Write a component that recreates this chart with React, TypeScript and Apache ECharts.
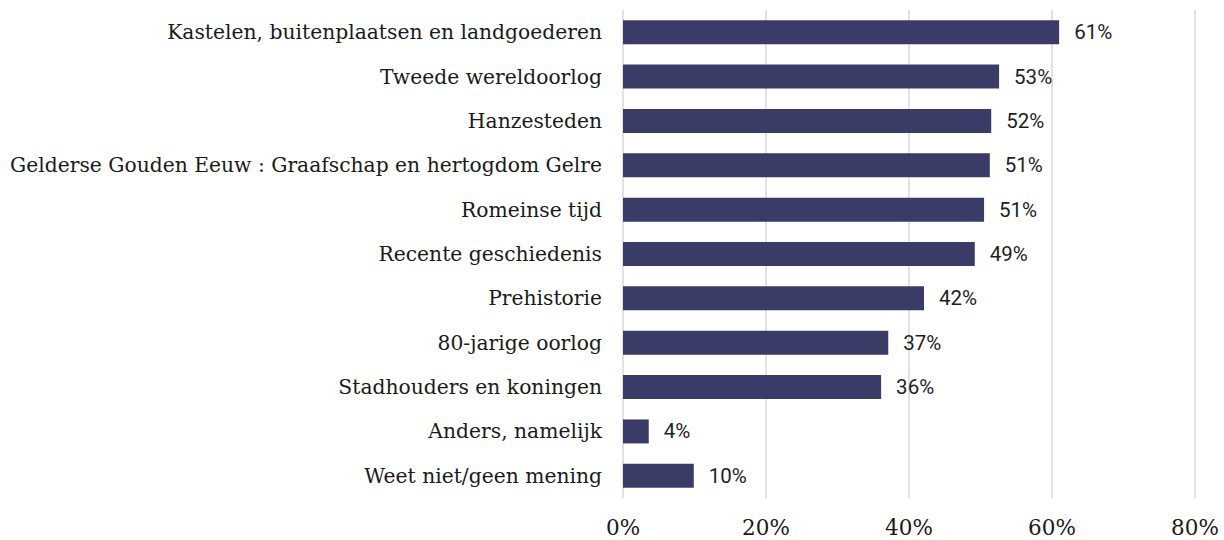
import React, { useEffect, useRef } from "react";
import * as echarts from "echarts";

const categories = [
  "Kastelen, buitenplaatsen en landgoederen",
  "Tweede wereldoorlog",
  "Hanzesteden",
  "Gelderse Gouden Eeuw : Graafschap en hertogdom Gelre",
  "Romeinse tijd",
  "Recente geschiedenis",
  "Prehistorie",
  "80-jarige oorlog",
  "Stadhouders en koningen",
  "Anders, namelijk",
  "Weet niet/geen mening",
];
const values = [61.0, 52.6, 51.5, 51.3, 50.5, 49.2, 42.1, 37.1, 36.1, 3.6, 9.9];
const xTicks = [0, 20, 40, 60, 80];

export default function App() {
  const ref = useRef<HTMLDivElement>(null);
  useEffect(() => {
    const chart = echarts.init(ref.current!, null, { renderer: "svg" });
    chart.setOption({
      animation: false,
      backgroundColor: "#ffffff",
      grid: { left: 623, right: 29, top: 10, bottom: 42, containLabel: false },
      xAxis: {
        type: "value",
        min: xTicks[0],
        max: xTicks[xTicks.length - 1],
        interval: 20,
        axisLine: { show: false },
        axisTick: { show: false },
        splitLine: { show: true, lineStyle: { color: "#d9d9d9", width: 1.5 } },
        axisLabel: {
          formatter: (v: number) => v + "%",
          fontFamily: "DejaVu Serif",
          fontSize: 21.5,
          color: "#1a1a1a",
          margin: 18,
        },
      },
      yAxis: {
        type: "category",
        data: categories,
        inverse: true,
        axisLine: { show: false },
        axisTick: { show: false },
        axisLabel: {
          fontFamily: "DejaVu Serif",
          fontSize: 20.3,
          color: "#1a1a1a",
          margin: 21,
        },
      },
      series: [
        {
          type: "bar",
          data: values,
          barWidth: 24,
          itemStyle: { color: "#3a3c67" },
          label: {
            show: true,
            position: "right",
            distance: 15,
            formatter: (p: any) => Math.round(p.value) + "%",
            fontFamily: "Roboto",
            fontSize: 20.5,
            color: "#1e1e1e",
          },
        },
      ],
    });
    return () => chart.dispose();
  }, []);
  return (
    <div
      ref={ref}
      style={{ position: "fixed", left: 0, top: 0, width: 1224, height: 540 }}
    />
  );
}
